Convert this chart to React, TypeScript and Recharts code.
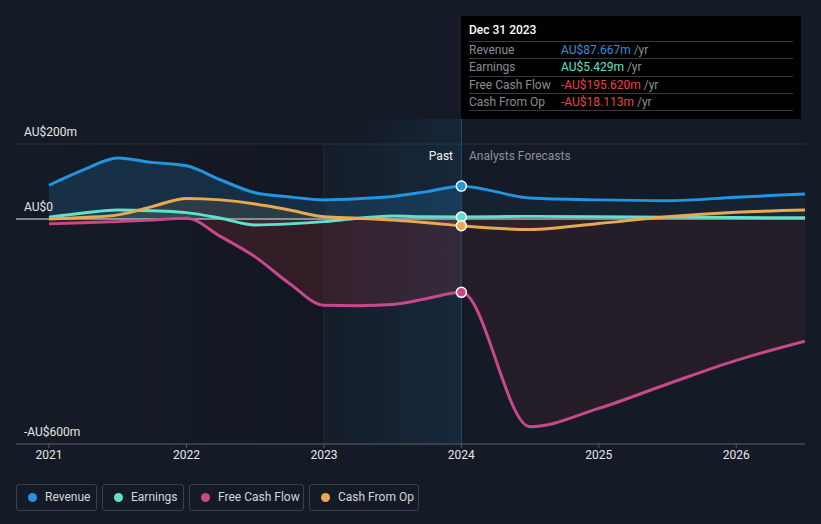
import { ComposedChart, Area, Line, XAxis, YAxis, CartesianGrid, ReferenceArea, ReferenceLine, ReferenceDot } from 'recharts';

const dates = [2021.0, 2021.25, 2021.5, 2021.75, 2022.0, 2022.25, 2022.5, 2022.75, 2023.0, 2023.25, 2023.5, 2023.75, 2024.0, 2024.5, 2025.0, 2025.5, 2026.0, 2026.5];
const revenue = [90, 131, 163, 151, 142, 104, 70, 59, 51, 54, 60, 73, 87.667, 56, 51, 49, 58, 67];
const earnings = [5, 16, 24, 22, 17, 2, -16, -13, -7, 2, 8, 6, 5.429, 7, 6, 5, 4, 3];
const freeCashFlow = [-13, -10, -7, -3, 2, -47, -101, -172, -230, -231, -228, -212, -195.62, -554, -505, -440, -377, -326];
const cashFromOp = [0, 4, 11, 33, 55, 51, 40, 24, 6, 2, -3, -10, -18.113, -28, -12, 6, 18, 24];

const yearTicks = [2021, 2022, 2023, 2024, 2025, 2026];
const yTicks = [-600, -400, -200, 0, 200];
const yLabels = [
  { value: 200, text: 'AU$200m' },
  { value: 0, text: 'AU$0' },
  { value: -600, text: '-AU$600m' },
];

const nowDate = 2024;
const nowIdx = dates.indexOf(nowDate);

const data = dates.map((d, i) => ({
  date: d,
  revenue: revenue[i],
  earnings: earnings[i],
  fcf: freeCashFlow[i],
  cfo: cashFromOp[i],
}));

const C = {
  bg: '#151b26',
  revenue: '#2394df',
  earnings: '#62e0cc',
  fcf: '#c8488c',
  cfo: '#e8a952',
  red: '#e84545',
};

const font = 'Roboto, "Noto Sans", sans-serif';
// where 2024 sits in each area's bounding box (2021 -> 2026.5)
const split = (nowDate - 2021) / (2026.5 - 2021);

const fillGrad = (id: string, color: string, past: number, future: number) => (
  <linearGradient id={id} x1="0" y1="0" x2="1" y2="0">
    <stop offset={0} stopColor={color} stopOpacity={past} />
    <stop offset={split} stopColor={color} stopOpacity={past} />
    <stop offset={split} stopColor={color} stopOpacity={future} />
    <stop offset={1} stopColor={color} stopOpacity={future} />
  </linearGradient>
);

const rows = [
  { label: 'Revenue', value: 'AU$87.667m', color: C.revenue },
  { label: 'Earnings', value: 'AU$5.429m', color: C.earnings },
  { label: 'Free Cash Flow', value: '-AU$195.620m', color: C.red },
  { label: 'Cash From Op', value: '-AU$18.113m', color: C.red },
];

const legend = [
  { name: 'Revenue', color: C.revenue, x: 16, w: 81 },
  { name: 'Earnings', color: C.earnings, x: 102, w: 82 },
  { name: 'Free Cash Flow', color: C.fcf, x: 189, w: 115 },
  { name: 'Cash From Op', color: C.cfo, x: 309, w: 110 },
];

export default function App() {
  return (
    <div style={{ position: 'absolute', left: 0, top: 0, width: 821, height: 524, background: C.bg, fontFamily: font, overflow: 'hidden' }}>
      {/* faint glow + now line poking above the plot, up to the tooltip */}
      <div style={{ position: 'absolute', left: 361, top: 119, width: 100, height: 25, background: 'linear-gradient(to right, rgba(26,106,168,0), rgba(26,106,168,0.14))' }} />
      <div style={{ position: 'absolute', left: 461, top: 119, width: 1, height: 25, background: '#2b4a63' }} />

      <ComposedChart width={821} height={524} data={data} margin={{ top: 144, right: 16, left: 16, bottom: 50 }}>
        <defs>
          <linearGradient id="pastShade" x1="0" y1="0" x2="1" y2="0">
            <stop offset={0} stopColor="#000" stopOpacity={0} />
            <stop offset={1} stopColor="#000" stopOpacity={0.3} />
          </linearGradient>
          <linearGradient id="lastYear" x1="0" y1="0" x2="1" y2="0">
            <stop offset={0} stopColor="#1a6aa8" stopOpacity={0.05} />
            <stop offset={1} stopColor="#1a6aa8" stopOpacity={0.32} />
          </linearGradient>
          {fillGrad('revFill', C.revenue, 0.3, 0.1)}
          {fillGrad('earnFill', C.earnings, 0.12, 0.06)}
          {fillGrad('fcfFill', '#d0343c', 0.28, 0.14)}
          {fillGrad('cfoFill', C.cfo, 0.18, 0.06)}
        </defs>
        <ReferenceArea x1={2020.76} x2={2023} y1={-600} y2={200} fill="url(#pastShade)" stroke="none" />
        <ReferenceArea x1={2023} x2={2024} y1={-600} y2={200} fill="url(#lastYear)" stroke="none" />
        <CartesianGrid vertical={false} stroke="#2d323c" />
        <ReferenceLine x={2023} stroke="#232a35" />
        <ReferenceLine x={2024} stroke="#2b4a63" />
        <XAxis
          dataKey="date"
          type="number"
          domain={[2020.76, 2026.5]}
          ticks={yearTicks}
          allowDataOverflow
          height={30}
          stroke="#50555f"
          tickSize={4}
          tick={{ fill: '#e6e6e6', fontSize: 12, fontFamily: font }}
        />
        <YAxis domain={[-600, 200]} ticks={yTicks} width={0} axisLine={false} tickLine={false} tick={false} allowDataOverflow />
        <Area dataKey="revenue" type="monotone" stroke="none" fill="url(#revFill)" isAnimationActive={false} />
        <Area dataKey="fcf" type="monotone" stroke="none" fill="url(#fcfFill)" isAnimationActive={false} />
        <Area dataKey="cfo" type="monotone" stroke="none" fill="url(#cfoFill)" isAnimationActive={false} />
        <Area dataKey="earnings" type="monotone" stroke="none" fill="url(#earnFill)" isAnimationActive={false} />
        <ReferenceLine y={0} stroke="#e8e8e8" strokeWidth={1} />
        {yLabels.map((l) => (
          <ReferenceLine
            key={l.text}
            y={l.value}
            stroke="none"
            label={(p: any) => (
              <text x={24} y={p.viewBox.y - 8} fill="#e6e6e6" fontSize={12} fontFamily={font}>
                {l.text}
              </text>
            )}
          />
        ))}
        <Line dataKey="revenue" type="monotone" stroke={C.revenue} strokeWidth={3} dot={false} isAnimationActive={false} />
        <Line dataKey="earnings" type="monotone" stroke={C.earnings} strokeWidth={3} dot={false} isAnimationActive={false} />
        <Line dataKey="fcf" type="monotone" stroke={C.fcf} strokeWidth={3} dot={false} isAnimationActive={false} />
        <Line dataKey="cfo" type="monotone" stroke={C.cfo} strokeWidth={3} dot={false} isAnimationActive={false} />
        <ReferenceDot x={nowDate} y={revenue[nowIdx]} r={5} fill={C.revenue} stroke="#fff" strokeWidth={1.5} />
        <ReferenceDot x={nowDate} y={earnings[nowIdx]} r={5} fill={C.earnings} stroke="#fff" strokeWidth={1.5} />
        <ReferenceDot x={nowDate} y={cashFromOp[nowIdx]} r={5} fill={C.cfo} stroke="#fff" strokeWidth={1.5} />
        <ReferenceDot x={nowDate} y={freeCashFlow[nowIdx]} r={5} fill={C.fcf} stroke="#fff" strokeWidth={1.5} />
      </ComposedChart>

      <div style={{ position: 'absolute', left: 0, width: 453, top: 149, textAlign: 'right', color: '#f2f2f2', fontSize: 12 }}>Past</div>
      <div style={{ position: 'absolute', left: 469, top: 149, color: '#8c9099', fontSize: 12 }}>Analysts Forecasts</div>

      <div style={{ position: 'absolute', left: 461, top: 16, width: 340, height: 103, background: '#000' }}>
        <div style={{ position: 'absolute', left: 8, top: 7, color: '#fff', fontSize: 12, fontWeight: 500 }}>Dec 31 2023</div>
        {rows.map((r, i) => (
          <div key={r.label} style={{ position: 'absolute', left: 8, width: 324, top: 25 + i * 17.3, height: 17, borderTop: '1px solid #3a3a3a', fontSize: 12, lineHeight: '16px' }}>
            <span style={{ position: 'absolute', left: 0, color: '#8a8e95' }}>{r.label}</span>
            <span style={{ position: 'absolute', left: 92, color: r.color, whiteSpace: 'nowrap' }}>
              {r.value} <span style={{ color: '#8a8e95' }}>/yr</span>
            </span>
          </div>
        ))}
        <div style={{ position: 'absolute', left: 8, width: 324, top: 94, borderTop: '1px solid #3a3a3a' }} />
      </div>

      {legend.map((l) => (
        <div key={l.name} style={{ position: 'absolute', left: l.x, top: 484, width: l.w - 2, height: 25, border: '1px solid #3b404a', borderRadius: 3, fontSize: 12, color: '#d4d6da' }}>
          <span style={{ position: 'absolute', left: 11, top: 8, width: 9, height: 9, borderRadius: '50%', background: l.color }} />
          <span style={{ position: 'absolute', left: 28, top: 5, whiteSpace: 'nowrap' }}>{l.name}</span>
        </div>
      ))}
    </div>
  );
}
